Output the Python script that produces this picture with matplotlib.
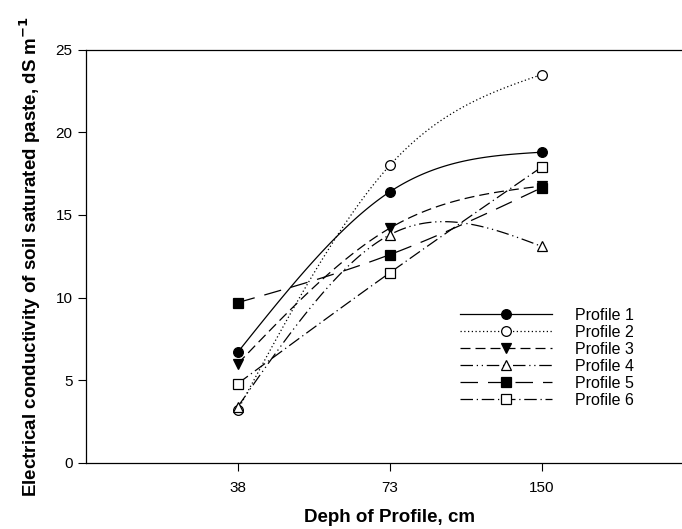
import numpy as np
import matplotlib.pyplot as plt

plt.rcParams['font.family'] = ['Liberation Sans', 'DejaVu Sans']

# data
depths = ['38', '73', '150']
profile_1 = [6.7, 16.4, 18.8]
profile_2 = [3.2, 18.0, 23.5]
profile_3 = [6.0, 14.2, 16.75]
profile_4 = [3.4, 13.8, 13.1]
profile_5 = [9.7, 12.6, 16.65]
profile_6 = [4.8, 11.5, 17.9]

series = [
    ('Profile 1', profile_1, '-', 'o', 'black'),
    ('Profile 2', profile_2, (0, (1, 2)), 'o', 'white'),
    ('Profile 3', profile_3, (0, (8, 4)), 'v', 'black'),
    ('Profile 4', profile_4, (0, (10, 3, 1, 3, 1, 3)), '^', 'white'),
    ('Profile 5', profile_5, (0, (14, 8)), 's', 'black'),
    ('Profile 6', profile_6, (0, (10, 3, 1, 3)), 's', 'white'),
]


def natural_spline(y, n=60):
    # natural cubic spline through 3 equally spaced points
    y0, y1, y2 = y
    m1 = 1.5 * (y0 - 2 * y1 + y2)
    m = [0.0, m1, 0.0]
    xs, ys = [], []
    for i in range(2):
        t = np.linspace(0, 1, n)
        a, b = y[i], y[i + 1]
        ma, mb = m[i], m[i + 1]
        s = (1 - t) * a + t * b + ((1 - t) ** 3 - (1 - t)) * ma / 6 + (t ** 3 - t) * mb / 6
        xs.append(i + 1 + t)
        ys.append(s)
    return np.concatenate(xs), np.concatenate(ys)


fig = plt.figure(figsize=(6.82, 5.29), dpi=100)
ax = fig.add_axes([0.126, 0.125, 0.891, 0.781])

pos = np.arange(1, len(depths) + 1)
for name, vals, ls, mk, fc in series:
    sx, sy = natural_spline(vals)
    ax.plot(sx, sy, color='black', linestyle=ls, linewidth=0.9)
    ax.plot(pos, vals, linestyle='none', marker=mk, markersize=7,
            markerfacecolor=fc, markeredgecolor='black', markeredgewidth=0.9)
    ax.plot([], [], color='black', linestyle=ls, linewidth=0.9, marker=mk,
            markersize=7, markerfacecolor=fc, markeredgecolor='black',
            markeredgewidth=0.9, label=name)

ax.set_xlim(0, 4)
ax.set_ylim(0, 25)
ax.set_xticks(pos)
ax.set_xticklabels(depths)
ax.set_yticks(range(0, 26, 5))
ax.tick_params(direction='out', length=6, labelsize=11, width=0.8)
ax.tick_params(axis='x', pad=7)
for s in ax.spines.values():
    s.set_linewidth(0.9)

ax.set_xlabel('Deph of Profile, cm', fontsize=13.5, fontweight='bold', labelpad=10)
ax.set_ylabel('Electrical conductivity of soil saturated paste, dS m$^{\\mathbf{-1}}$',
              fontsize=13.5, fontweight='bold', labelpad=9)

leg = ax.legend(loc='upper left', bbox_to_anchor=(0.615, 0.375), frameon=False,
                fontsize=11.5, handlelength=5.8, numpoints=1, labelspacing=0.12,
                handletextpad=1.4, borderpad=0, borderaxespad=0)

fig.savefig('out.png', dpi=100)
